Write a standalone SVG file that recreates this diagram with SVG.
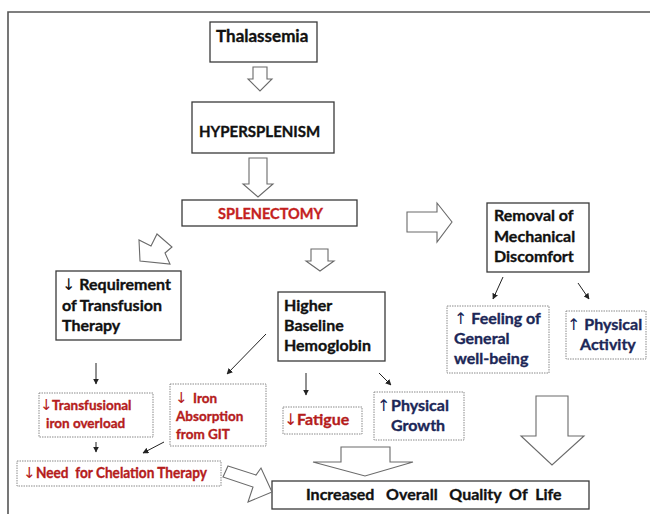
<svg xmlns="http://www.w3.org/2000/svg" width="650" height="514" viewBox="0 0 650 514">
<style>
.box{fill:#fff;stroke:#3a3a3a;stroke-width:1.3}
.dbox{fill:#fff;stroke:#8a8a8a;stroke-width:1;stroke-dasharray:1.5 1}
.t{font-family:Lato,"Liberation Sans",sans-serif;font-weight:bold;font-size:16px;fill:#111;stroke:#111;stroke-width:0.35}
.r{fill:#b51c1c;stroke:#b51c1c}
.n{fill:#1c2757;stroke:#1c2757}
.s13{font-size:13.5px}
.hol{fill:#fff;stroke:#6a6a6a;stroke-width:1.1;stroke-linejoin:miter}
.ln{stroke:#222;stroke-width:1;fill:none;marker-end:url(#ah)}
.ar{font-family:"DejaVu Sans",sans-serif;font-weight:normal;stroke-width:0}
</style>
<defs>
<marker id="ah" viewBox="0 0 10 10" refX="9" refY="5" markerWidth="6" markerHeight="6" orient="auto" markerUnits="userSpaceOnUse">
<path d="M0,0 L10,5 L0,10 z" fill="#222"/>
</marker>
</defs>
<rect width="650" height="514" fill="#fff"/>
<path d="M8,514 V12 H650" fill="none" stroke="#555" stroke-width="1.6"/>

<g id="thalassemia"><rect class="box" x="210" y="22" width="107" height="40"/><text class="t" x="216" y="42" style="font-size:17px">Thalassemia</text></g>
<g id="hypersplenism"><rect class="box" x="192" y="102" width="142" height="51"/><text class="t" x="199" y="137" style="font-size:15px">HYPERSPLENISM</text></g>
<g id="splenectomy"><rect class="box" x="182" y="200" width="175" height="26"/><text class="t" x="218" y="219" style="font-size:14.5px;fill:#c41f1f;stroke:#c41f1f">SPLENECTOMY</text></g>
<g id="requirement"><rect class="box" x="56" y="271" width="125" height="69"/><text class="t" x="62" y="290"><tspan class="ar">↓</tspan><tspan> Requirement</tspan><tspan x="62" y="311">of Transfusion</tspan><tspan x="62" y="331">Therapy</tspan></text></g>
<g id="higher"><rect class="box" x="278" y="292" width="107" height="69"/><text class="t" x="284" y="311"><tspan>Higher</tspan><tspan x="284" y="331">Baseline</tspan><tspan x="284" y="351">Hemoglobin</tspan></text></g>
<g id="removal"><rect class="box" x="487" y="203" width="102" height="69"/><text class="t" x="494" y="221"><tspan>Removal of</tspan><tspan x="494" y="242">Mechanical</tspan><tspan x="494" y="262">Discomfort</tspan></text></g>
<g id="feeling"><rect class="dbox" x="447" y="306" width="102" height="67"/><text class="t n" x="454" y="324"><tspan class="ar">↑</tspan><tspan> Feeling of</tspan><tspan x="454" y="344">General</tspan><tspan x="454" y="364">well-being</tspan></text></g>
<g id="activity"><rect class="dbox" x="566" y="311" width="80" height="48"/><text class="t n" x="567" y="330"><tspan class="ar">↑</tspan><tspan> Physical</tspan><tspan x="580" y="350">Activity</tspan></text></g>
<g id="transfusional"><rect class="dbox" x="39" y="393" width="114" height="44"/><text class="t r s13" x="40" y="410"><tspan class="ar" style="font-size:15px">↓</tspan><tspan x="52">Transfusional</tspan><tspan x="46" y="428">iron overload</tspan></text></g>
<g id="iron"><rect class="dbox" x="170" y="384" width="96" height="62"/><text class="t r s13" x="175" y="403"><tspan class="ar" style="font-size:15px">↓</tspan><tspan x="193">Iron</tspan><tspan x="176" y="421">Absorption</tspan><tspan x="176" y="439">from GIT</tspan></text></g>
<g id="fatigue"><rect class="dbox" x="283" y="407" width="79" height="27"/><text class="t r" x="284" y="425"><tspan class="ar">↓</tspan><tspan x="297">Fatigue</tspan></text></g>
<g id="growth"><rect class="dbox" x="374" y="392" width="90" height="48"/><text class="t n" x="377" y="411"><tspan class="ar">↑</tspan><tspan x="391">Physical</tspan><tspan x="391" y="431">Growth</tspan></text></g>
<g id="chelation"><rect class="dbox" x="17" y="461" width="204" height="25"/><text class="t r" x="23" y="478" style="font-size:15px" xml:space="preserve"><tspan class="ar">↓</tspan><tspan x="36" textLength="171" lengthAdjust="spacingAndGlyphs">Need  for Chelation Therapy</tspan></text></g>
<g id="quality"><rect class="box" x="272" y="481" width="317" height="28"/><text class="t" x="306" y="500" xml:space="preserve">Increased   Overall   Quality  Of  Life</text></g>

<g id="connectors">
<polygon class="hol" points="253,67 267,67 267,79 272,79 260,91 248,79 253,79"/>
<polygon class="hol" points="249,158 267,158 267,184 273,184 258,197 243,184 249,184"/>
<polygon class="hol" points="311,249 328,249 328,261 334,261 320,271 306,261 311,261"/>
<polygon class="hol" points="407,212 437,212 437,203 452,222 437,242 437,232 407,232"/>
<polygon class="hol" points="536,396 568,396 568,436 584,436 552,465 521,436 536,436"/>
<polygon class="hol" points="341,447 390,447 390,462 413,462 365,476 313,462 341,462"/>
<polygon class="hol" points="157,234 172,247 165,253 170,264 140,261 139,240 151,246"/>
<polygon class="hol" points="228,466 256,475 261,468 272,492 248,502 253,487 223,477"/>
<line class="ln" x1="503" y1="277" x2="493" y2="299"/>
<line class="ln" x1="578" y1="283" x2="589" y2="299"/>
<line class="ln" x1="96" y1="363" x2="96" y2="384"/>
<line class="ln" x1="266" y1="334" x2="227" y2="374"/>
<line class="ln" x1="306" y1="373" x2="306" y2="395"/>
<line class="ln" x1="379" y1="373" x2="391" y2="385"/>
<line class="ln" x1="96" y1="442" x2="96" y2="452"/>
<line class="ln" x1="164" y1="442" x2="143" y2="453"/>
</g>
</svg>
